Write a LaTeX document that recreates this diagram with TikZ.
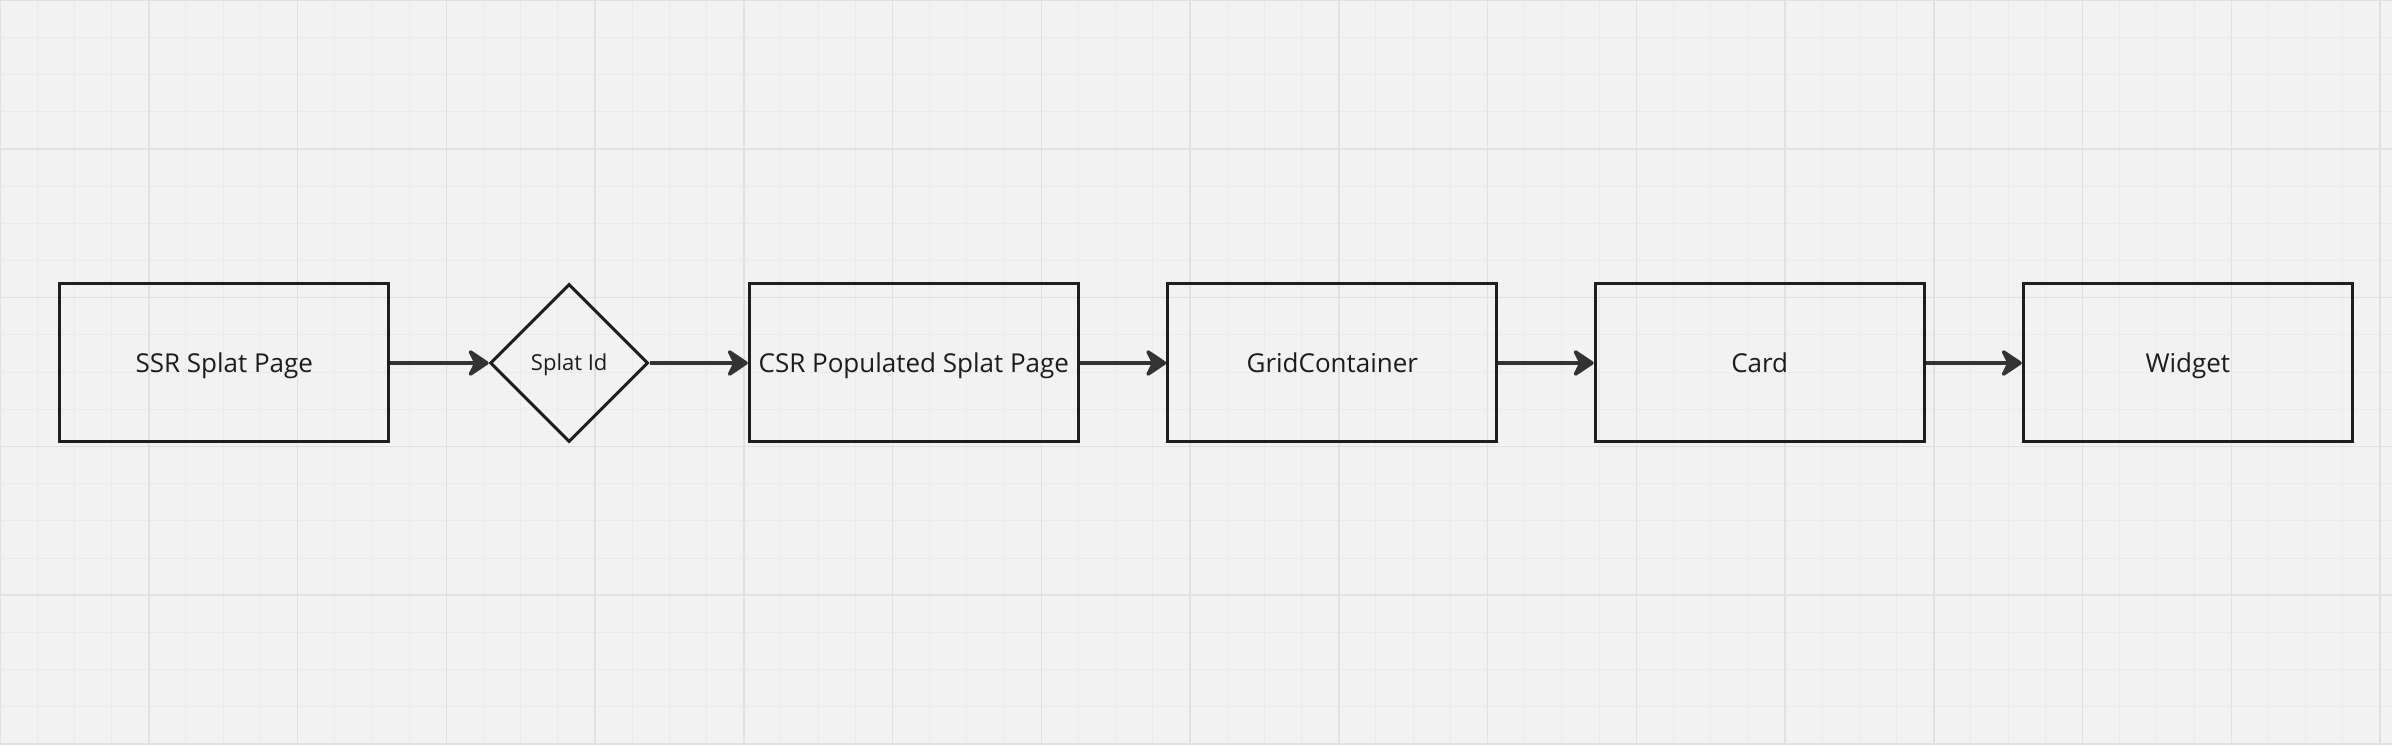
\documentclass[tikz,border=0pt]{standalone}
\usepackage{fontspec}
\setmainfont{Open Sans}
\usetikzlibrary{shapes.geometric,arrows.meta}
\definecolor{bgcol}{HTML}{F2F2F2}
\definecolor{minorcol}{HTML}{EAEAEA}
\definecolor{majorcol}{HTML}{E0E0E0}
\definecolor{boxcol}{HTML}{1E1E1E}
\definecolor{arrcol}{HTML}{333333}
\definecolor{txtcol}{HTML}{1C1C1C}
\begin{document}
\begin{tikzpicture}[x=1pt,y=1pt,
	block/.style={draw=boxcol,line width=3pt,minimum width=329pt,minimum height=158pt,inner sep=0pt,text=txtcol,text height=18.6pt,text depth=0pt,font=\fontsize{26}{30}\selectfont},
	decision/.style={diamond,draw=boxcol,line width=3pt,minimum width=158pt,minimum height=158pt,inner sep=0pt,text=txtcol,text height=15.7pt,text depth=0pt,font=\fontsize{22}{26}\selectfont},
	flow/.style={draw=arrcol,line width=3.5pt,-{Stealth[length=24pt,width=32pt,inset=8pt,round]}}]
	% board background
	\fill[bgcol] (0,0) rectangle (2392,744);
	\useasboundingbox (0,0) rectangle (2392,744);
	\draw[minorcol,line width=1pt,step=37.1875pt] (0,0) grid (2392,744);
	\draw[majorcol,line width=1.5pt,step=148.75pt] (0,0) grid (2392,744);

	% flow
	\node[block] (ssr) at (224.3,381) {SSR Splat Page};
	\node[decision] (splatid) at (569.2,381) {Splat Id};
	\node[block] (csr) at (913.8,381) {CSR Populated Splat Page};
	\node[block] (gridc) at (1332.3,381) {GridContainer};
	\node[block] (card) at (1759.7,381) {Card};
	\node[block] (widget) at (2187.8,381) {Widget};

	\draw[flow] (ssr) -- (splatid);
	\draw[flow] (splatid) -- (csr);
	\draw[flow] (csr) -- (gridc);
	\draw[flow] (gridc) -- (card);
	\draw[flow] (card) -- (widget);
\end{tikzpicture}
\end{document}
